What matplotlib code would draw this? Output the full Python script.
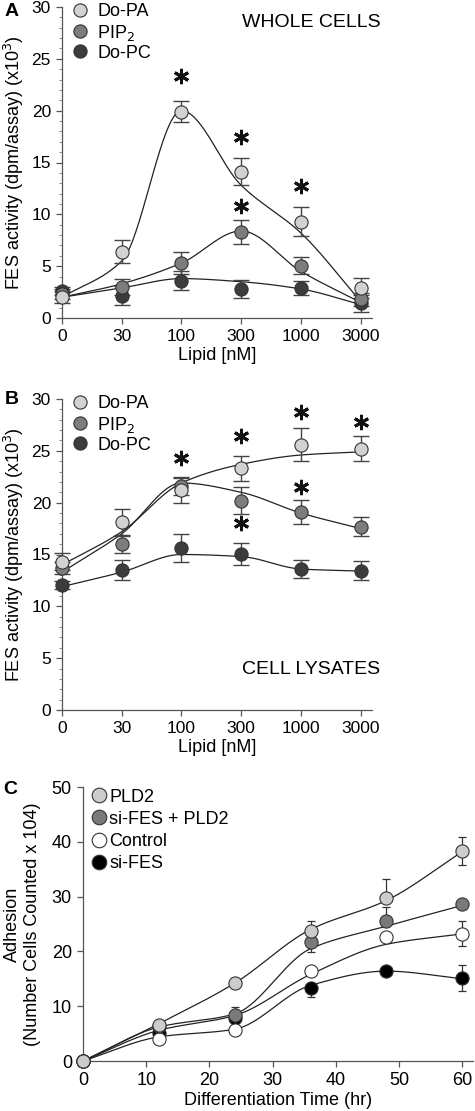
import numpy as np
import matplotlib
matplotlib.use("Agg")
import matplotlib.pyplot as plt
from matplotlib.lines import Line2D

plt.rcParams.update({"font.family": "Liberation Sans", "font.size": 13})

# ---- data ----
lipid_labels = ["0", "30", "100", "300", "1000", "3000"]

# panel A: whole cells
a_pa = [2.0, 6.4, 19.9, 14.1, 9.3, 2.9]
a_pa_err = [0.6, 1.1, 1.0, 1.3, 1.4, 1.0]
a_pip = [2.3, 3.0, 5.3, 8.3, 5.05, 1.8]
a_pip_err = [0.5, 0.8, 1.05, 1.2, 0.85, 0.6]
a_pc = [2.6, 2.15, 3.6, 2.8, 2.9, 1.4]
a_pc_err = [0.4, 0.9, 0.9, 0.9, 0.7, 0.8]
a_pa_fit = [2.0, 5.5, 20.0, 12.8, 8.2, 1.6]
a_pip_fit = [2.0, 3.3, 5.3, 8.4, 4.5, 1.5]
a_pc_fit = [2.0, 2.9, 3.8, 3.5, 2.8, 1.3]
a_star_x = [2, 3, 3, 4]
a_star_y = [23.3, 17.5, 10.8, 12.7]

# panel B: cell lysates
b_pa = [14.3, 18.1, 21.2, 23.3, 25.6, 25.2]
b_pa_err = [0.8, 1.3, 1.2, 1.2, 1.6, 1.2]
b_pip = [13.7, 16.0, 21.6, 20.2, 19.1, 17.7]
b_pip_err = [0.6, 0.9, 0.9, 1.3, 1.15, 0.9]
b_pc = [12.05, 13.5, 15.6, 15.05, 13.6, 13.45]
b_pc_err = [0.4, 1.0, 1.35, 1.05, 0.85, 0.95]
b_pa_fit = [14.0, 17.2, 21.9, 23.7, 24.6, 24.9]
b_pip_fit = [13.3, 17.0, 21.9, 21.0, 19.0, 17.5]
b_pc_fit = [11.9, 13.3, 15.0, 14.8, 13.6, 13.4]
b_star_x = [2, 3, 3, 4, 4, 5]
b_star_y = [24.3, 26.4, 18.0, 28.7, 21.5, 27.8]

# panel C: adhesion
time_h = [0, 12, 24, 36, 48, 60]
c_pld2 = [0, 6.6, 14.2, 23.8, 29.7, 38.4]
c_pld2_lo = [0, 0, 0, 0, 0, 2.7]
c_pld2_hi = [0, 0, 0, 1.8, 3.6, 2.5]
c_sipld = [0, 6.3, 8.4, 21.7, 25.6, 28.6]
c_sipld_lo = [0, 0, 0, 1.9, 0, 0]
c_sipld_hi = [0, 0, 1.5, 0, 2.5, 0]
c_ctrl = [0, 4.0, 5.7, 16.5, 22.7, 23.2]
c_ctrl_lo = [0, 0, 0, 0, 0, 2.3]
c_ctrl_hi = [0, 0, 0, 0, 0, 2.3]
c_sifes = [0, 5.2, 7.9, 13.4, 16.5, 15.1]
c_sifes_lo = [0, 0, 0, 1.7, 0, 2.3]
c_sifes_hi = [0, 0, 0, 0, 0, 2.4]
c_pld2_fit = [0, 6.8, 14.2, 24.0, 29.3, 38.2]
c_sipld_fit = [0, 6.2, 8.6, 20.5, 24.6, 28.4]
c_ctrl_fit = [0, 5.6, 8.3, 15.8, 21.3, 23.2]
c_sifes_fit = [0, 4.4, 5.8, 13.8, 16.4, 15.0]


def smooth(x, y, n=300):
    # monotone cubic (Fritsch-Carlson) curve through the fit values
    x = np.asarray(x, float); y = np.asarray(y, float)
    h = np.diff(x); d = np.diff(y) / h
    m = np.zeros_like(y)
    m[0], m[-1] = d[0], d[-1]
    for i in range(1, len(x) - 1):
        if d[i - 1] * d[i] > 0:
            w1 = 2 * h[i] + h[i - 1]; w2 = h[i] + 2 * h[i - 1]
            m[i] = (w1 + w2) / (w1 / d[i - 1] + w2 / d[i])
    xs = np.linspace(x[0], x[-1], n)
    j = np.clip(np.searchsorted(x, xs) - 1, 0, len(x) - 2)
    t = (xs - x[j]) / h[j]
    h00 = 2 * t**3 - 3 * t**2 + 1; h10 = t**3 - 2 * t**2 + t
    h01 = -2 * t**3 + 3 * t**2; h11 = t**3 - t**2
    ys = h00 * y[j] + h10 * h[j] * m[j] + h01 * y[j + 1] + h11 * h[j] * m[j + 1]
    return xs, ys


W, H = 475, 1111
fig = plt.figure(figsize=(W / 100, H / 100), dpi=100)

def box(l, t, r, b):
    return [l / W, 1 - b / H, (r - l) / W, (b - t) / H]

COL = {"pa": "#d2d2d2", "pip": "#7d7d7d", "pc": "#3c3c3c"}
ms = 9.5


def lipid_panel(ax, series, stars):
    xi = np.arange(6)
    for key, vals, err, fit in series:
        xs, ys = smooth(xi, fit)
        ax.plot(xs, ys, color="#222222", lw=0.9, zorder=2, clip_on=False)
        ax.errorbar(xi, vals, yerr=err, fmt="none", ecolor="#444444", elinewidth=1.0,
                    capsize=6, capthick=1.0, zorder=3, clip_on=False)
    for key, vals, err, fit in series:
        ax.plot(xi, vals, "o", ms=ms, mfc=COL[key], mec="#333333", mew=0.8, zorder=4, clip_on=False)
    ax.plot(stars[0], stars[1], ls="none", marker=(6, 2, 0), ms=11, mew=2.1, color="#111111", zorder=5)
    ax.set_xlim(0, 5.19); ax.set_ylim(0, 30)
    ax.set_xticks(xi); ax.set_xticklabels(lipid_labels)
    ax.set_yticks(range(0, 31, 5)); ax.set_yticks(range(0, 31), minor=True)
    for s in ["top", "right"]:
        ax.spines[s].set_visible(False)
    for s in ["left", "bottom"]:
        ax.spines[s].set_color("#555555"); ax.spines[s].set_linewidth(0.9)
    ax.tick_params(which="major", direction="out", length=4, width=0.9, color="#555555", labelsize=12.5, pad=4)
    ax.tick_params(which="minor", direction="out", length=2, width=0.6, color="#777777")
    ax.set_xlabel("Lipid [nM]", fontsize=13, labelpad=2)
    ax.set_ylabel("FES activity (dpm/assay) (x10$^{3}$)", fontsize=13, labelpad=4)
    handles = [Line2D([], [], ls="none", marker="o", ms=ms, mfc=COL[k], mec="#333333", mew=0.8)
               for k in ["pa", "pip", "pc"]]
    ax.legend(handles, ["Do-PA", "PIP$_{2}$", "Do-PC"], loc="upper left", bbox_to_anchor=(0.0, 1.035),
              frameon=False, fontsize=13, handletextpad=0.35, labelspacing=0.12, borderaxespad=0,
              handlelength=1.2)


axA = fig.add_axes(box(62, 7, 372, 318))
lipid_panel(axA, [("pc", a_pc, a_pc_err, a_pc_fit), ("pip", a_pip, a_pip_err, a_pip_fit),
                  ("pa", a_pa, a_pa_err, a_pa_fit)], (a_star_x, a_star_y))
axA.text(0.805, 0.95, "WHOLE CELLS", transform=axA.transAxes, ha="center", va="center", fontsize=14)
fig.text(5 / W, 1 - 11 / H, "A", fontsize=14, fontweight="bold", va="center")

axB = fig.add_axes(box(62, 399, 372, 710))
lipid_panel(axB, [("pc", b_pc, b_pc_err, b_pc_fit), ("pip", b_pip, b_pip_err, b_pip_fit),
                  ("pa", b_pa, b_pa_err, b_pa_fit)], (b_star_x, b_star_y))
axB.text(0.805, 0.13, "CELL LYSATES", transform=axB.transAxes, ha="center", va="center", fontsize=14)
fig.text(5 / W, 1 - 399 / H, "B", fontsize=14, fontweight="bold", va="center")

# ---- panel C ----
axC = fig.add_axes(box(83, 787, 473, 1061))
c_series = [("#000000", c_sifes, c_sifes_lo, c_sifes_hi, c_sifes_fit),
            ("#ffffff", c_ctrl, c_ctrl_lo, c_ctrl_hi, c_ctrl_fit),
            ("#7a7a7a", c_sipld, c_sipld_lo, c_sipld_hi, c_sipld_fit),
            ("#cccccc", c_pld2, c_pld2_lo, c_pld2_hi, c_pld2_fit)]
for col, vals, lo, hi, fit in c_series:
    xs, ys = smooth(time_h, fit)
    axC.plot(xs, ys, color="#222222", lw=0.9, zorder=2)
    axC.errorbar(time_h, vals, yerr=[lo, hi], fmt="none", ecolor="#333333", elinewidth=0.9,
                 capsize=3, capthick=0.9, zorder=3)
for col, vals, lo, hi, fit in c_series:
    axC.plot(time_h, vals, "o", ms=ms, mfc=col, mec="#333333", mew=0.8, zorder=4, clip_on=False)
axC.set_xlim(0, 61.7); axC.set_ylim(0, 50)
axC.set_xticks(range(0, 61, 10)); axC.set_yticks(range(0, 51, 10))
for s in ["top", "right"]:
    axC.spines[s].set_visible(False)
for s in ["left", "bottom"]:
    axC.spines[s].set_color("#555555"); axC.spines[s].set_linewidth(0.9)
axC.tick_params(direction="out", length=4, width=0.9, color="#555555", labelsize=13, pad=4)
axC.set_xlabel("Differentiation Time (hr)", fontsize=13, labelpad=2)
axC.set_ylabel("Adhesion\n(Number Cells Counted x 104)", fontsize=13, labelpad=8, linespacing=1.2)
hC = [Line2D([], [], ls="none", marker="o", ms=ms + 1, mfc=c, mec="#333333", mew=0.8)
      for c in ["#cccccc", "#7a7a7a", "#ffffff", "#000000"]]
axC.legend(hC, ["PLD2", "si-FES + PLD2", "Control", "si-FES"], loc="upper left",
           bbox_to_anchor=(0.0, 1.02), frameon=False, fontsize=13, handletextpad=0.05,
           labelspacing=0.28, borderaxespad=0, handlelength=1.0)
fig.text(3 / W, 1 - 789 / H, "C", fontsize=14, fontweight="bold", va="center")

plt.savefig("out.png", dpi=100)
